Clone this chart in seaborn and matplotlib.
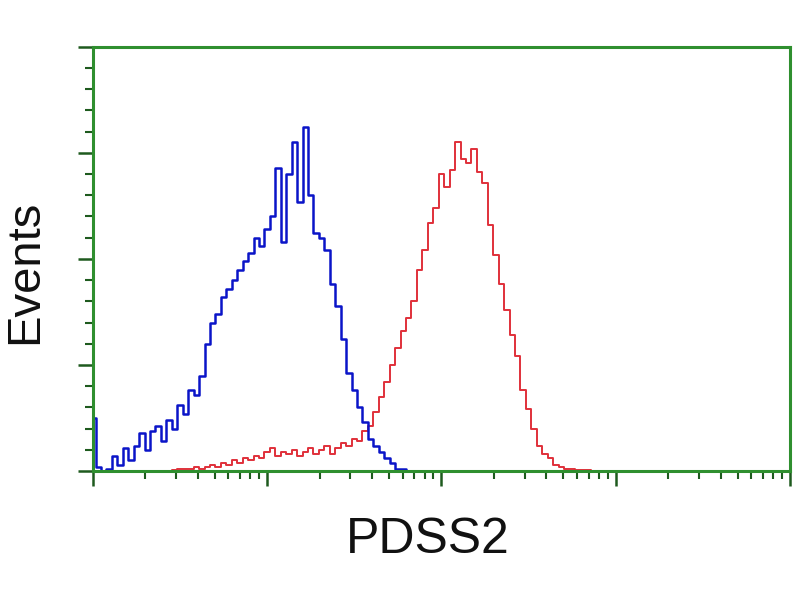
import numpy as np
import pandas as pd
import seaborn as sns
import matplotlib.pyplot as plt
from matplotlib.ticker import MultipleLocator, LogLocator, NullFormatter

# histogram channels: 1/32 decade per bin, starting at 10^0
bin_step = 1 / 32

# control (blue) counts per bin
control_counts = [25, 2, 0, 1, 7, 3, 11, 5, 12, 18,
                  10, 19, 21, 14, 24, 20, 31, 27, 38, 36,
                  45, 60, 70, 74, 82, 86, 90, 95, 99, 103,
                  110, 106, 114, 120, 143, 108, 140, 155, 127, 162,
                  130, 112, 110, 104, 88, 78, 62, 46, 38, 30,
                  23, 15, 12, 9, 6, 4, 1, 1, 0, 0]

# PDSS2 stained (red) counts per bin
pdss2_counts = [0, 0, 0, 0, 0, 0, 0, 0, 0, 0,
                0, 0, 0, 0, 0, 0.5, 1, 1, 1, 2,
                1, 2, 3, 2, 4, 3, 5, 4, 6, 5,
                7, 6, 9, 11, 7, 9, 8, 10, 7, 9,
                11, 8, 10, 12, 8, 11, 13, 12, 15, 14,
                19, 21, 28, 35, 42, 50, 58, 66, 72, 80,
                95, 104, 117, 124, 140, 134, 142, 155, 147, 145,
                152, 141, 136, 116, 102, 88, 76, 64, 54, 38,
                29, 20, 12, 8, 6, 3, 2, 1, 1, 0.5,
                0.5, 0.5, 0, 0]

ctrl = pd.DataFrame({"fl": 10 ** (np.arange(len(control_counts)) * bin_step),
                     "events": control_counts})
pdss = pd.DataFrame({"fl": 10 ** (np.arange(len(pdss2_counts)) * bin_step),
                     "events": pdss2_counts})

sns.set_style("white")
plt.rcParams['font.family'] = ['Liberation Sans', 'DejaVu Sans']

fig = plt.figure(figsize=(8, 6), dpi=100)
ax = fig.add_axes([0.116, 0.215, 0.8715, 0.707])

green = "#2f8f2f"
sns.lineplot(data=pdss, x="fl", y="events", ax=ax, color="#e0303a",
             linewidth=1.4, drawstyle="steps-mid", estimator=None, sort=False)
sns.lineplot(data=ctrl, x="fl", y="events", ax=ax, color="#0a14c8",
             linewidth=1.8, drawstyle="steps-mid", estimator=None, sort=False)

ax.set_xscale("log")
ax.set_xlim(1, 1e4)
ax.set_ylim(0, 200)

ax.xaxis.set_major_locator(LogLocator(base=10, numticks=10))
ax.xaxis.set_minor_locator(LogLocator(base=10, subs=np.arange(2, 10), numticks=100))
ax.xaxis.set_major_formatter(NullFormatter())
ax.xaxis.set_minor_formatter(NullFormatter())
ax.yaxis.set_major_locator(MultipleLocator(50))
ax.yaxis.set_minor_locator(MultipleLocator(10))
ax.yaxis.set_major_formatter(NullFormatter())

ax.tick_params(which="major", direction="out", length=11, width=1.8,
               color="#1e5a1e", bottom=True, left=True)
ax.tick_params(which="minor", direction="out", length=6, width=1.5,
               color="#1e5a1e", bottom=True, left=True)

for s in ax.spines.values():
    s.set_visible(True)
    s.set_color(green)
    s.set_linewidth(2.2)

ax.set_xlabel("PDSS2", fontsize=36, color="#111111")
ax.set_ylabel("Events", fontsize=34, color="#111111")
ax.xaxis.set_label_coords(0.481, -0.108)
ax.yaxis.set_label_coords(-0.066, 0.47)

fig.savefig("out.png", dpi=100)
